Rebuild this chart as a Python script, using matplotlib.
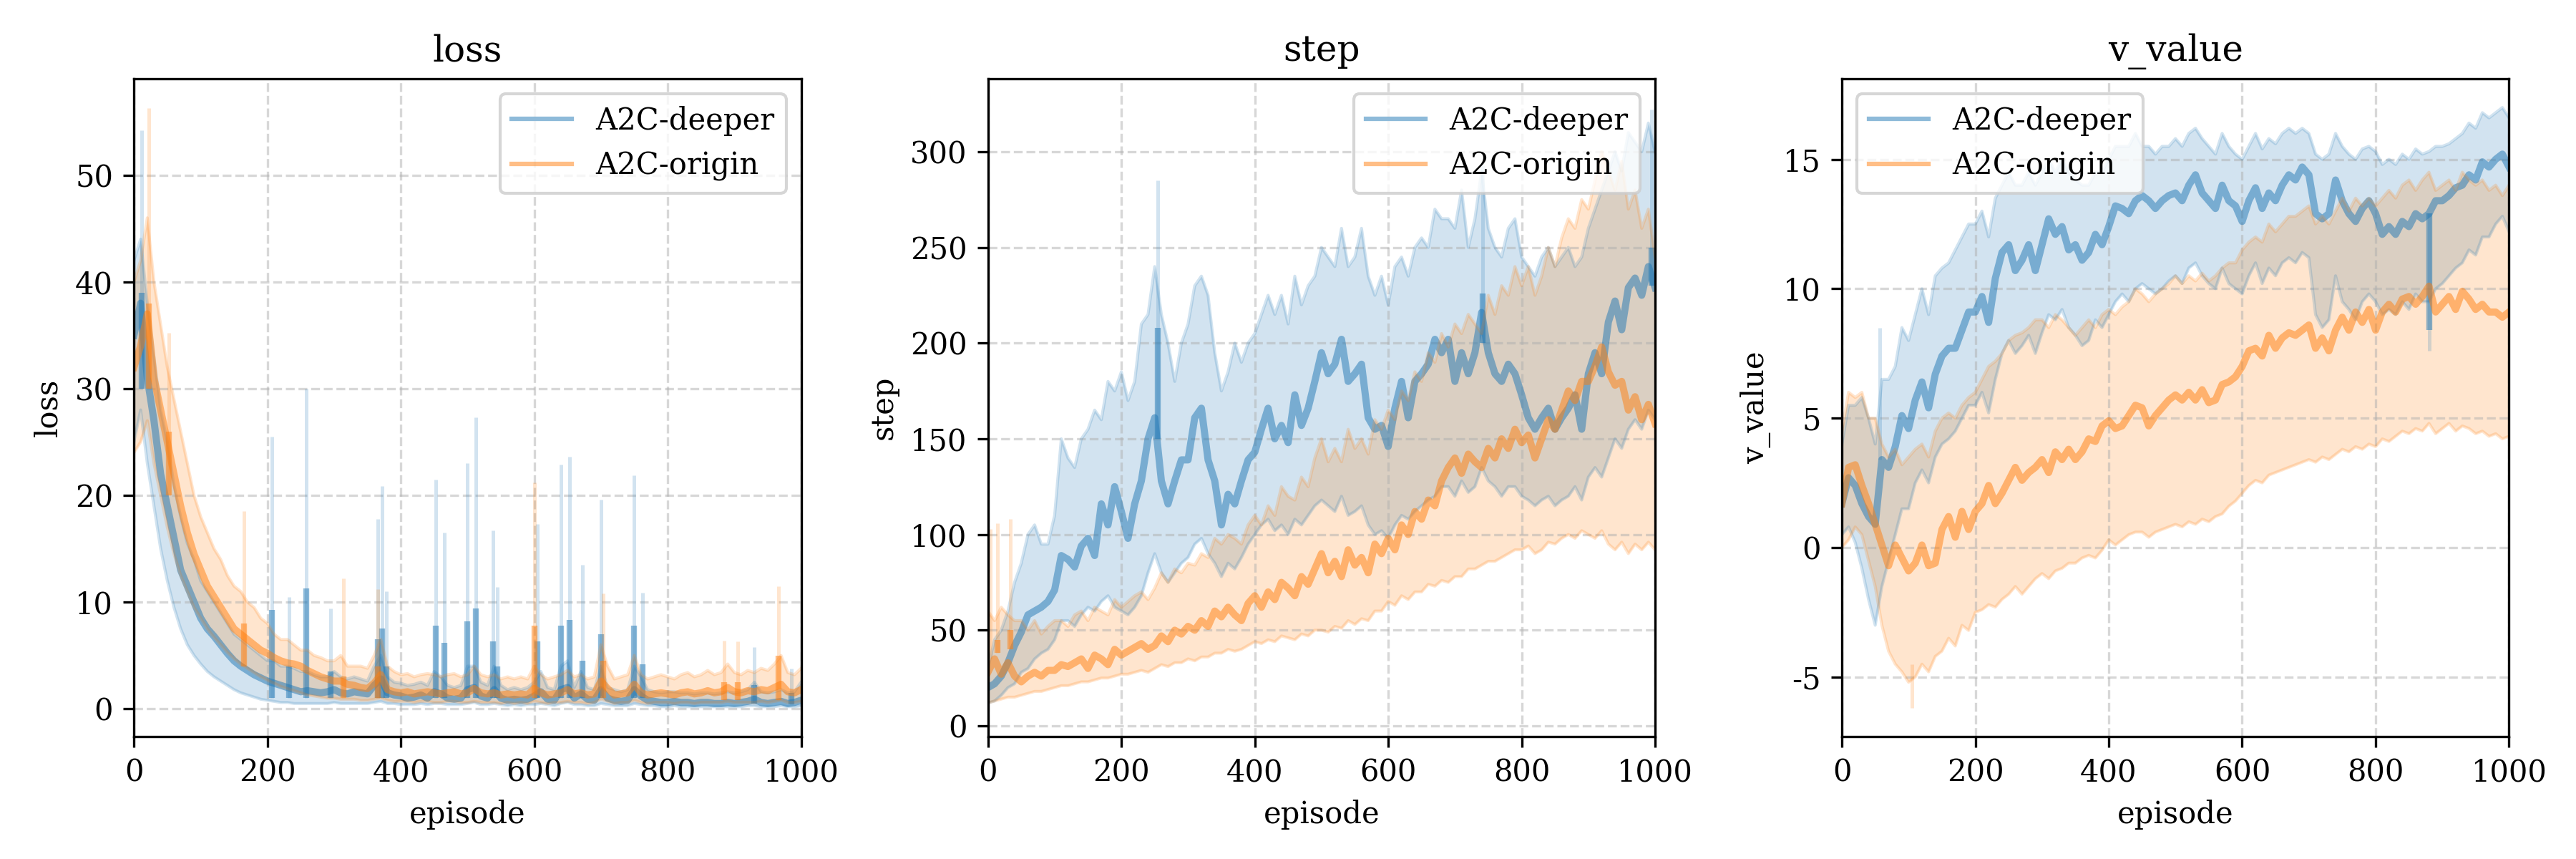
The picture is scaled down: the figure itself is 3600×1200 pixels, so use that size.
import numpy as np
import matplotlib
matplotlib.use('Agg')
import matplotlib.pyplot as plt

# Section 1: Data (one value every 10 episodes)
episodes = np.arange(0, 1001, 10)
labels = ["A2C-deeper", "A2C-origin"]
colors = ["tab:blue", "tab:orange"]

# --- loss ---
loss_deeper_mean = [35, 38, 31, 27, 22, 19, 16, 13, 11.5, 10,
                    8.5, 7.5, 6.8, 6.0, 5.2, 4.5, 4.0, 3.6, 3.2, 2.9,
                    2.6, 2.4, 2.2, 2.0, 1.8, 1.6, 1.7, 1.6, 1.5, 1.6,
                    1.8, 1.5, 1.4, 1.6, 1.5, 1.4, 2.2, 2.8, 1.5, 1.3,
                    1.2, 1.0, 1.1, 1.3, 1.0, 1.6, 1.4, 1.0, 0.9, 1.0,
                    1.8, 2.0, 1.2, 1.0, 1.8, 1.0, 0.8, 0.9, 0.8, 0.9,
                    1.2, 1.6, 0.9, 0.8, 1.8, 2.0, 1.0, 1.4, 0.9, 0.8,
                    1.8, 1.0, 0.8, 0.7, 0.8, 1.8, 1.2, 0.8, 0.7, 0.6,
                    0.6, 0.7, 0.6, 0.6, 0.5, 0.6, 0.6, 0.5, 0.5, 0.6,
                    0.5, 0.6, 0.7, 0.9, 0.6, 0.5, 0.6, 0.7, 0.5, 0.6,
                    0.8]
loss_deeper_low = [25, 28, 23, 19, 15, 12, 9.5, 7.5, 6, 5,
                   4.2, 3.5, 3, 2.6, 2.2, 1.8, 1.5, 1.3, 1.1, 0.9,
                   0.8, 0.7, 0.6, 0.6, 0.5, 0.5, 0.5, 0.5, 0.5, 0.5,
                   0.6, 0.5, 0.5, 0.5, 0.5, 0.5, 0.6, 0.7, 0.5, 0.5,
                   0.4, 0.4, 0.4, 0.5, 0.4, 0.5, 0.5, 0.4, 0.4, 0.4,
                   0.5, 0.6, 0.4, 0.4, 0.5, 0.4, 0.3, 0.4, 0.3, 0.4,
                   0.4, 0.5, 0.4, 0.3, 0.5, 0.6, 0.4, 0.4, 0.3, 0.3,
                   0.5, 0.4, 0.3, 0.3, 0.3, 0.5, 0.4, 0.3, 0.3, 0.2,
                   0.2, 0.3, 0.2, 0.2, 0.2, 0.2, 0.2, 0.2, 0.2, 0.2,
                   0.2, 0.2, 0.3, 0.3, 0.2, 0.2, 0.2, 0.3, 0.2, 0.2,
                   0.3]
loss_deeper_high = [42, 44, 38, 33, 28, 25, 21, 18, 15.5, 14,
                    12, 11, 10, 9, 8, 7, 6.5, 6, 5.5, 5,
                    4.5, 4.5, 4, 4, 3.8, 3.5, 3.5, 3.2, 3, 3,
                    3.5, 3, 2.8, 3, 2.8, 2.6, 4, 5, 3, 2.5,
                    2.4, 2.2, 2.3, 2.5, 2.2, 3.5, 3, 2.2, 2, 2.2,
                    4, 4, 2.5, 2.2, 4, 2.2, 1.8, 2, 1.8, 2,
                    2.5, 3.5, 2, 1.8, 4, 4.5, 2, 3.5, 2, 1.8,
                    4, 2, 1.8, 1.6, 1.8, 4, 3, 1.8, 1.6, 1.5,
                    1.6, 1.6, 1.5, 1.5, 1.4, 1.5, 1.5, 1.4, 1.5, 1.6,
                    1.5, 1.6, 1.8, 2.5, 1.6, 1.5, 1.6, 1.8, 1.5, 1.6,
                    2.5]
# single-episode spikes: episode, base, mean peak, band peak
loss_deeper_spk_ep = [12, 207, 233, 258, 295, 365, 372, 378, 452, 465, 500, 512,
                      538, 545, 605, 640, 653, 672, 700, 750, 762, 930, 985]
loss_deeper_spk_base = [30, 1, 1, 1, 1, 1, 1, 1, 1, 1, 1, 1,
                        1, 1, 1, 1, 1, 1, 1, 1, 1, 0.5, 0.4]
loss_deeper_spk_mean = [39, 9.3, 4, 11.3, 3.5, 6.5, 7.5, 4, 7.8, 6.2, 8.2, 9.4,
                        6.3, 4, 6.3, 7.8, 8.3, 4.5, 7, 7.8, 4.2, 2.2, 1.5]
loss_deeper_spk_top = [54.2, 25.5, 10.5, 30, 9.4, 17.8, 20.9, 11, 21.5, 16.5, 23, 27.3,
                       16.7, 11.4, 17.3, 22.9, 23.6, 13.5, 19.6, 21.9, 10.9, 5.8, 3.8]

loss_origin_mean = [32, 34, 37, 31, 28, 25, 22, 19, 16.5, 14.5,
                    13, 11.5, 10.5, 9.5, 8.5, 7.5, 7, 6.5, 6, 5.5,
                    5.2, 4.8, 4.5, 4.3, 4.2, 4, 3.6, 3.3, 3, 2.8,
                    2.6, 2.6, 2.3, 2.2, 2, 1.9, 2.4, 3.2, 1.8, 1.6,
                    1.5, 1.6, 1.4, 1.5, 1.6, 1.5, 1.4, 1.5, 1.6, 1.4,
                    1.5, 1.9, 1.5, 1.4, 1.5, 1.3, 1.4, 1.3, 1.4, 1.3,
                    1.9, 1.5, 1.3, 1.4, 1.5, 1.8, 1.4, 1.5, 1.3, 1.4,
                    2.6, 1.9, 1.3, 1.4, 1.5, 2.3, 1.5, 1.3, 1.4, 1.5,
                    1.4, 1.3, 1.5, 1.6, 1.4, 1.5, 1.7, 1.5, 1.6, 2.0,
                    1.6, 1.5, 1.7, 1.6, 1.8, 1.7, 2.0, 2.3, 1.6, 1.5,
                    1.8]
loss_origin_low = [24, 25, 27, 23, 20, 17, 14.5, 12.5, 11, 9.5,
                   8.5, 7.5, 6.7, 6, 5.3, 4.7, 4.2, 3.8, 3.4, 3,
                   2.7, 2.4, 2.1, 1.9, 1.7, 1.5, 1.3, 1.2, 1.1, 1,
                   1, 0.9, 0.9, 0.9, 0.8, 0.8, 0.9, 1, 0.8, 0.7,
                   0.7, 0.7, 0.6, 0.7, 0.7, 0.6, 0.6, 0.7, 0.7, 0.6,
                   0.6, 0.7, 0.6, 0.6, 0.6, 0.5, 0.6, 0.5, 0.6, 0.5,
                   0.7, 0.6, 0.5, 0.6, 0.6, 0.7, 0.6, 0.6, 0.5, 0.6,
                   0.9, 0.7, 0.5, 0.6, 0.6, 0.8, 0.6, 0.5, 0.6, 0.6,
                   0.6, 0.5, 0.6, 0.6, 0.5, 0.6, 0.6, 0.6, 0.6, 0.7,
                   0.6, 0.6, 0.6, 0.6, 0.7, 0.6, 0.7, 0.8, 0.6, 0.6,
                   0.7]
loss_origin_high = [40, 42, 46, 40, 36, 32, 29, 26, 23, 20,
                    18, 16.5, 15, 14, 12.5, 11.5, 11, 10, 9.5, 8.5,
                    8, 7, 6.5, 6.5, 6, 5.5, 5.5, 5, 4.8, 4.5,
                    4.5, 5, 4, 4, 4, 3.8, 5, 6.5, 4, 3.5,
                    3.2, 3.3, 3, 3.2, 3.3, 3.2, 3, 3.2, 3.3, 3,
                    3.2, 4, 3.2, 3, 3.2, 2.8, 3, 2.8, 3, 2.8,
                    4, 3.2, 2.8, 3, 3.2, 3.6, 3, 3.2, 2.8, 3,
                    6, 4, 2.8, 3, 3.2, 5, 3.2, 2.8, 3, 3.2,
                    3, 2.8, 3.2, 3.4, 3, 3.2, 3.6, 3.2, 3.4, 4.2,
                    3.4, 3.2, 3.6, 3.4, 3.8, 3.6, 4.2, 5, 3.4, 3.2,
                    3.8]
loss_origin_spk_ep = [22, 52, 165, 314, 365, 600, 703, 885, 905, 966]
loss_origin_spk_base = [30, 20, 4, 1, 1, 1, 1, 0.8, 0.8, 0.8]
loss_origin_spk_mean = [38, 26, 8, 3, 4, 7.8, 4.5, 2.5, 2.5, 5]
loss_origin_spk_top = [56.3, 35.2, 18.5, 12.2, 11.2, 21.2, 10.8, 6.4, 6.3, 11.5]

# --- step ---
step_deeper_mean = [20, 22, 26, 33, 42, 49, 58, 60, 62, 65,
                    71, 89, 87, 83, 94, 98, 89, 116, 105, 125,
                    112, 98, 116, 128, 150, 161, 128, 116, 128, 139,
                    139, 161, 166, 139, 128, 105, 121, 116, 128, 139,
                    143, 155, 166, 150, 157, 148, 173, 157, 166, 180,
                    195, 184, 189, 202, 180, 184, 189, 161, 155, 157,
                    146, 166, 180, 161, 180, 184, 189, 202, 195, 202,
                    180, 195, 184, 195, 216, 195, 184, 180, 189, 184,
                    173, 161, 155, 161, 166, 155, 161, 166, 173, 155,
                    184, 195, 184, 211, 222, 207, 229, 234, 225, 240,
                    229]
step_deeper_low = [12, 13, 16, 20, 22, 28, 30, 35, 38, 40,
                   45, 55, 55, 52, 58, 62, 60, 65, 68, 62,
                   60, 58, 62, 68, 80, 90, 80, 75, 80, 85,
                   88, 95, 98, 90, 85, 78, 85, 82, 88, 95,
                   100, 105, 108, 102, 105, 100, 108, 105, 110, 115,
                   118, 115, 112, 120, 110, 112, 115, 105, 100, 102,
                   98, 105, 110, 108, 112, 115, 118, 120, 125, 125,
                   120, 128, 122, 125, 135, 128, 125, 120, 125, 125,
                   120, 118, 115, 118, 120, 115, 118, 120, 125, 118,
                   130, 135, 130, 140, 150, 145, 155, 160, 155, 165,
                   160]
step_deeper_high = [30, 45, 50, 60, 75, 85, 100, 105, 95, 95,
                    110, 150, 140, 135, 150, 155, 165, 160, 180, 175,
                    185, 170, 180, 210, 215, 240, 215, 200, 180, 200,
                    210, 230, 235, 225, 195, 175, 185, 200, 190, 200,
                    205, 215, 225, 215, 225, 210, 235, 220, 230, 235,
                    250, 245, 240, 260, 240, 245, 260, 235, 225, 235,
                    220, 240, 245, 235, 250, 255, 250, 270, 265, 265,
                    260, 280, 250, 265, 290, 260, 250, 245, 260, 265,
                    245, 240, 235, 245, 250, 240, 245, 250, 240, 245,
                    260, 270, 280, 290, 300, 290, 310, 305, 300, 315,
                    300]
step_deeper_spk_ep = [255, 742, 995]
step_deeper_spk_base = [150, 200, 230]
step_deeper_spk_mean = [208, 226, 250]
step_deeper_spk_top = [285, 293, 322]

step_origin_mean = [28, 35, 27, 33, 26, 23, 26, 28, 26, 29,
                    29, 32, 31, 33, 35, 30, 37, 35, 32, 40,
                    37, 39, 41, 43, 40, 42, 47, 44, 50, 48,
                    52, 50, 55, 52, 60, 57, 62, 58, 55, 64,
                    68, 62, 70, 66, 75, 72, 68, 78, 74, 82,
                    90, 80, 86, 78, 92, 84, 88, 80, 95, 90,
                    98, 92, 105, 100, 112, 108, 118, 115, 128, 135,
                    140, 132, 142, 138, 135, 145, 140, 150, 145, 155,
                    148, 152, 140, 150, 160, 155, 165, 175, 170, 180,
                    180, 188, 198, 185, 178, 180, 165, 172, 160, 168,
                    158]
step_origin_low = [12, 13, 14, 15, 15, 16, 17, 18, 18, 19,
                   20, 21, 21, 22, 23, 23, 24, 25, 25, 26,
                   27, 27, 28, 29, 28, 30, 32, 31, 33, 33,
                   35, 34, 36, 36, 38, 38, 40, 39, 40, 42,
                   44, 43, 45, 44, 47, 46, 45, 48, 47, 50,
                   50, 49, 52, 51, 55, 53, 56, 55, 60, 60,
                   65, 63, 68, 66, 70, 70, 74, 73, 76, 75,
                   78, 78, 82, 82, 84, 86, 86, 88, 90, 92,
                   92, 94, 90, 92, 96, 95, 98, 100, 98, 102,
                   100, 98, 102, 95, 92, 96, 90, 95, 92, 96,
                   92]
step_origin_high = [60, 55, 62, 58, 55, 55, 50, 55, 48, 52,
                    55, 55, 52, 58, 60, 55, 62, 60, 58, 66,
                    62, 65, 68, 70, 66, 72, 80, 75, 82, 80,
                    85, 84, 90, 88, 98, 95, 100, 98, 95, 105,
                    110, 105, 115, 110, 125, 120, 118, 130, 125, 140,
                    150, 138, 145, 138, 155, 145, 150, 142, 160, 155,
                    165, 160, 175, 170, 185, 180, 195, 190, 205, 198,
                    210, 205, 215, 210, 205, 225, 215, 230, 225, 240,
                    230, 240, 225, 235, 250, 240, 255, 265, 260, 275,
                    270, 285, 300, 290, 280, 295, 270, 280, 260, 270,
                    245]
step_origin_spk_ep = [4, 14, 34]
step_origin_spk_base = [35, 38, 40]
step_origin_spk_mean = [35, 45, 50]
step_origin_spk_top = [103, 106, 108]

# --- v_value ---
v_deeper_mean = [1.7, 2.7, 2.4, 1.7, 1.2, 0.9, 3.4, 3.1, 3.9, 5.1,
                 4.6, 5.7, 6.4, 5.4, 6.7, 7.4, 7.7, 7.7, 8.4, 9.1,
                 9.1, 9.7, 8.7, 10.4, 11.4, 11.7, 10.7, 11.1, 11.7, 10.7,
                 11.7, 12.7, 12.1, 12.4, 11.5, 11.7, 11.1, 11.4, 12.1, 11.7,
                 12.4, 13.2, 13.1, 12.9, 13.4, 13.6, 13.4, 13.1, 13.4, 13.6,
                 13.7, 13.4, 14.0, 14.4, 13.7, 13.4, 13.1, 14.0, 13.4, 13.2,
                 12.6, 13.4, 13.9, 13.1, 13.7, 13.4, 14.0, 14.4, 14.2, 14.7,
                 14.4, 12.9, 12.7, 12.9, 14.2, 13.4, 12.9, 12.6, 13.1, 13.4,
                 12.9, 12.1, 12.4, 12.1, 12.6, 12.4, 12.9, 12.7, 12.9, 13.4,
                 13.4, 13.6, 13.9, 14.0, 14.4, 14.2, 14.9, 14.7, 15.0, 15.2,
                 14.7]
v_deeper_low = [0.5, 0.8, 0.2, -0.8, -2, -3, -1.5, -0.5, 0.5, 1.5,
                1.5, 2.5, 3, 2.5, 3.5, 4, 4.2, 4.5, 5, 5.5,
                5.5, 6, 5.2, 6.5, 7.5, 8, 7.5, 7.8, 8.2, 7.5,
                8.3, 9, 8.8, 9.2, 8.5, 8.2, 7.8, 8, 8.8, 8.5,
                9, 9.5, 9.8, 9.5, 10, 10.2, 10, 9.8, 10, 10.3,
                10.5, 10.2, 10.8, 11, 10.5, 10.2, 10, 10.8, 10.2, 10,
                9.8, 10.5, 11, 10.2, 10.8, 10.5, 11, 11.2, 11, 11.4,
                11.2, 9, 8.5, 8.8, 10.5, 9.5, 9.2, 8.8, 9.5, 9.8,
                9.5, 9, 9.2, 9, 9.5, 9.2, 9.8, 9.5, 9.5, 10,
                10.2, 10.5, 10.8, 11, 11.5, 11.3, 12, 12, 12.5, 12.8,
                12.2]
v_deeper_high = [4, 5.5, 5.5, 5.8, 5, 4, 6.5, 6.5, 7, 8.5,
                 8, 9, 10, 9, 10.5, 10.8, 11, 11.5, 12, 12.5,
                 12.5, 13, 12, 13.5, 14, 14.5, 14, 14, 14.5, 14,
                 14.5, 15, 14.5, 15, 14.5, 14.2, 14, 14, 14.5, 14.5,
                 15, 15.5, 15.5, 15.5, 16, 15.5, 15.5, 15.2, 15.5, 15.5,
                 15.8, 15.5, 16, 16.2, 15.8, 15.5, 15.2, 16, 15.5, 15.2,
                 15, 15.5, 16, 15.4, 15.8, 15.6, 16, 16.2, 16, 16.2,
                 16, 15.2, 15, 15.2, 16, 15.5, 15.2, 15, 15.4, 15.5,
                 15.3, 14.8, 15, 14.8, 15.2, 15, 15.4, 15.2, 15.3, 15.5,
                 15.5, 15.6, 15.8, 16, 16.4, 16.2, 16.8, 16.6, 16.8, 17,
                 16.6]
v_deeper_spk_ep = [57, 880]
v_deeper_spk_base = [3.4, 12.9]
v_deeper_spk_mean = [3.4, 8.4]
v_deeper_spk_top = [8.5, 7.6]

v_origin_mean = [1.7, 3.1, 3.2, 2.4, 1.7, 0.9, 0.1, -0.7, 0.1, -0.4,
                 -0.9, -0.6, 0.1, -0.7, -0.6, 0.7, 1.2, 0.4, 1.4, 0.7,
                 1.4, 1.7, 2.4, 1.7, 2.1, 2.6, 3.1, 2.6, 2.9, 3.1,
                 3.4, 2.9, 3.7, 3.4, 3.8, 3.4, 3.7, 4.2, 4.1, 4.7,
                 4.9, 4.6, 4.7, 5.1, 5.5, 5.4, 4.7, 5.1, 5.4, 5.7,
                 5.9, 5.7, 6.0, 5.7, 6.1, 5.6, 5.7, 6.3, 6.4, 6.6,
                 7.0, 7.6, 7.7, 7.4, 8.2, 7.7, 8.1, 8.3, 8.2, 8.4,
                 8.6, 7.7, 8.1, 7.6, 8.4, 8.9, 8.4, 9.1, 8.7, 9.2,
                 8.4, 9.1, 9.4, 9.1, 9.6, 9.7, 9.4, 9.7, 10.1, 9.1,
                 9.4, 9.7, 9.2, 9.9, 9.6, 9.2, 9.4, 9.1, 9.1, 8.9,
                 9.1]
v_origin_low = [0, 0.3, 0.8, 0.5, -0.5, -1.5, -3, -4, -4.5, -4.8,
                -5.2, -5, -4.5, -4.8, -4.2, -4, -3.5, -3.8, -3, -3.2,
                -2.5, -2.4, -2.2, -2.3, -2, -1.8, -1.5, -1.8, -1.5, -1.2,
                -1.0, -1.2, -0.9, -0.8, -0.6, -0.6, -0.4, -0.3, -0.4, -0.1,
                0.3, 0.1, 0.3, 0.5, 0.6, 0.6, 0.4, 0.6, 0.7, 0.8,
                0.9, 0.8, 1.0, 0.9, 1.1, 1.0, 1.2, 1.3, 1.6, 1.8,
                2.1, 2.4, 2.6, 2.5, 2.8, 2.9, 3.0, 3.1, 3.2, 3.3,
                3.4, 3.3, 3.5, 3.4, 3.6, 3.8, 3.7, 3.9, 3.8, 4.0,
                3.9, 4.2, 4.1, 4.3, 4.5, 4.4, 4.6, 4.5, 4.8, 4.4,
                4.6, 4.8, 4.5, 4.7, 4.6, 4.4, 4.5, 4.3, 4.4, 4.2,
                4.3]
v_origin_high = [4.5, 6, 5.8, 6, 5, 5, 4, 3.5, 3.8, 3.2,
                 3.5, 3.8, 4, 3.5, 4.5, 5, 5.2, 5, 5.5, 5.8,
                 6, 6.5, 7, 7.2, 7.5, 8, 8.2, 8.3, 8.5, 8.8,
                 8.8, 8.5, 9, 8.8, 8.5, 8.2, 8.5, 8.8, 8.5, 9,
                 9.2, 9, 9.3, 9.5, 10, 9.8, 9.5, 9.8, 10, 10.2,
                 10.5, 10.2, 10.5, 10.3, 10.6, 10.3, 10.5, 10.8, 11, 11,
                 11.5, 11.8, 12, 11.8, 12.5, 12.2, 12.5, 12.8, 12.8, 13,
                 13.2, 12.5, 12.8, 12.5, 13, 13.5, 13, 13.5, 13.2, 13.5,
                 13.2, 13.5, 13.8, 13.5, 14, 14.2, 13.8, 14.2, 14.5, 13.8,
                 14, 14.2, 13.8, 14.5, 14.2, 14, 14.2, 13.8, 14, 13.6,
                 14]
v_origin_spk_ep = [105]
v_origin_spk_base = [-4.5]
v_origin_spk_mean = [-4.5]
v_origin_spk_top = [-6.2]


# Section 2: Plotting helpers
def draw_run(ax, color, label, mean, low, high, spk_ep, spk_base, spk_mean, spk_top):
    # shaded band plus its faint edges, then the mean on top
    ax.fill_between(episodes, low, high, color=color, alpha=0.2, linewidth=0)
    ax.plot(episodes, low, color=color, alpha=0.2, linewidth=1)
    ax.plot(episodes, high, color=color, alpha=0.2, linewidth=1)
    ax.vlines(spk_ep, spk_base, spk_top, color=color, alpha=0.2, linewidth=1.2)
    ax.vlines(spk_ep, spk_base, spk_mean, color=color, alpha=0.5, linewidth=2)
    ax.plot(episodes, mean, color=color, alpha=0.5, linewidth=2.4, label=label)


plt.rcParams['font.family'] = 'serif'
plt.rcParams['axes.unicode_minus'] = False

fig, axes = plt.subplots(1, 3, figsize=(12, 4), dpi=300)
fig.subplots_adjust(left=0.052, right=0.974, bottom=0.1425, top=0.908, wspace=0.28)

panels = [
    ("loss", (-2.6, 59), np.arange(0, 51, 10), "upper right",
     [(loss_deeper_mean, loss_deeper_low, loss_deeper_high,
       loss_deeper_spk_ep, loss_deeper_spk_base, loss_deeper_spk_mean, loss_deeper_spk_top),
      (loss_origin_mean, loss_origin_low, loss_origin_high,
       loss_origin_spk_ep, loss_origin_spk_base, loss_origin_spk_mean, loss_origin_spk_top)]),
    ("step", (-5.6, 338), np.arange(0, 301, 50), "upper right",
     [(step_deeper_mean, step_deeper_low, step_deeper_high,
       step_deeper_spk_ep, step_deeper_spk_base, step_deeper_spk_mean, step_deeper_spk_top),
      (step_origin_mean, step_origin_low, step_origin_high,
       step_origin_spk_ep, step_origin_spk_base, step_origin_spk_mean, step_origin_spk_top)]),
    ("v_value", (-7.3, 18.1), np.arange(-5, 16, 5), "upper left",
     [(v_deeper_mean, v_deeper_low, v_deeper_high,
       v_deeper_spk_ep, v_deeper_spk_base, v_deeper_spk_mean, v_deeper_spk_top),
      (v_origin_mean, v_origin_low, v_origin_high,
       v_origin_spk_ep, v_origin_spk_base, v_origin_spk_mean, v_origin_spk_top)]),
]

# Section 3: Draw the three panels
for ax, (name, ylim, yticks, legend_loc, runs) in zip(axes, panels):
    for color, label, run in zip(colors, labels, runs):
        draw_run(ax, color, label, *run)
    ax.set_title(name)
    ax.set_xlabel("episode")
    ax.set_ylabel(name)
    ax.set_xlim(0, 1000)
    ax.set_ylim(*ylim)
    ax.set_yticks(yticks)
    ax.grid(True, linestyle="--", alpha=0.5)
    leg = ax.legend(loc=legend_loc)
    for line in leg.get_lines():
        line.set_linewidth(1.5)

fig.savefig("out.png", dpi=300)
